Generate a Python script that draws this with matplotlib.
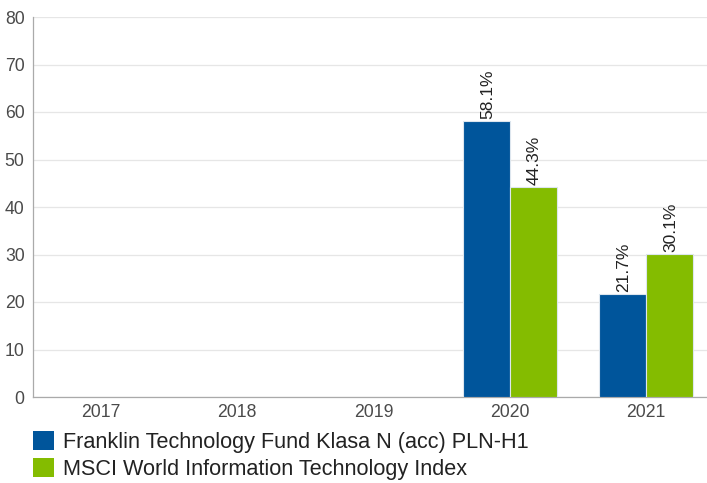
import matplotlib
matplotlib.use("Agg")
import matplotlib.pyplot as plt
from matplotlib.patches import Patch
import numpy as np

years = ["2017", "2018", "2019", "2020", "2021"]
fund = [None, None, None, 58.1, 21.7]
index = [None, None, None, 44.3, 30.1]
fund_name = "Franklin Technology Fund Klasa N (acc) PLN-H1"
index_name = "MSCI World Information Technology Index"
yticks = [0, 10, 20, 30, 40, 50, 60, 70, 80]

blue = "#00559b"
green = "#84bc00"

plt.rcParams["font.family"] = ["Liberation Sans", "DejaVu Sans"]

W, H = 707, 483
fig = plt.figure(figsize=(W/100, H/100), dpi=100)
ax = fig.add_axes([33/W, 1-397/H, (707-33)/W, (397-17)/H])

x = np.arange(len(years))
bw = 0.345
for i in range(len(years)):
    for val, off, col in ((fund[i], -bw/2, blue), (index[i], bw/2, green)):
        if val is None:
            continue
        ax.bar(x[i] + off, val, width=bw, color=col, edgecolor="#dde6ee", linewidth=0.8, zorder=3)
        ax.text(x[i] + off + 0.01, val + 0.4, f"{val:.1f}%", rotation=90, ha="center", va="bottom",
                fontsize=12.5, color="#222222", zorder=4)

ax.set_xlim(-0.5, 4.45)
ax.set_ylim(0, 80)
ax.set_yticks(yticks)
ax.set_yticklabels([str(t) for t in yticks])
ax.set_xticks(x)
ax.set_xticklabels(years)
ax.grid(axis="y", color="#e6e6e6", linewidth=0.9, zorder=0)
ax.set_axisbelow(True)
for s in ("top", "right"):
    ax.spines[s].set_visible(False)
for s in ("left", "bottom"):
    ax.spines[s].set_color("#aaaaaa")
    ax.spines[s].set_linewidth(0.9)
ax.tick_params(axis="both", length=0, labelsize=12.7, labelcolor="#4a4a4a")
ax.tick_params(axis="y", pad=6)
ax.tick_params(axis="x", pad=5)

handles = [Patch(facecolor=blue, edgecolor="none"), Patch(facecolor=green, edgecolor="none")]
leg = fig.legend(handles, [fund_name, index_name], loc="upper left",
                 bbox_to_anchor=(33/W, 1-431/H), frameon=False, fontsize=15.6,
                 handlelength=0.97, handleheight=1.0, handletextpad=0.4,
                 labelspacing=0.22, borderaxespad=0, borderpad=0)
for t in leg.get_texts():
    t.set_color("#222222")

fig.savefig("out.png", dpi=100)
